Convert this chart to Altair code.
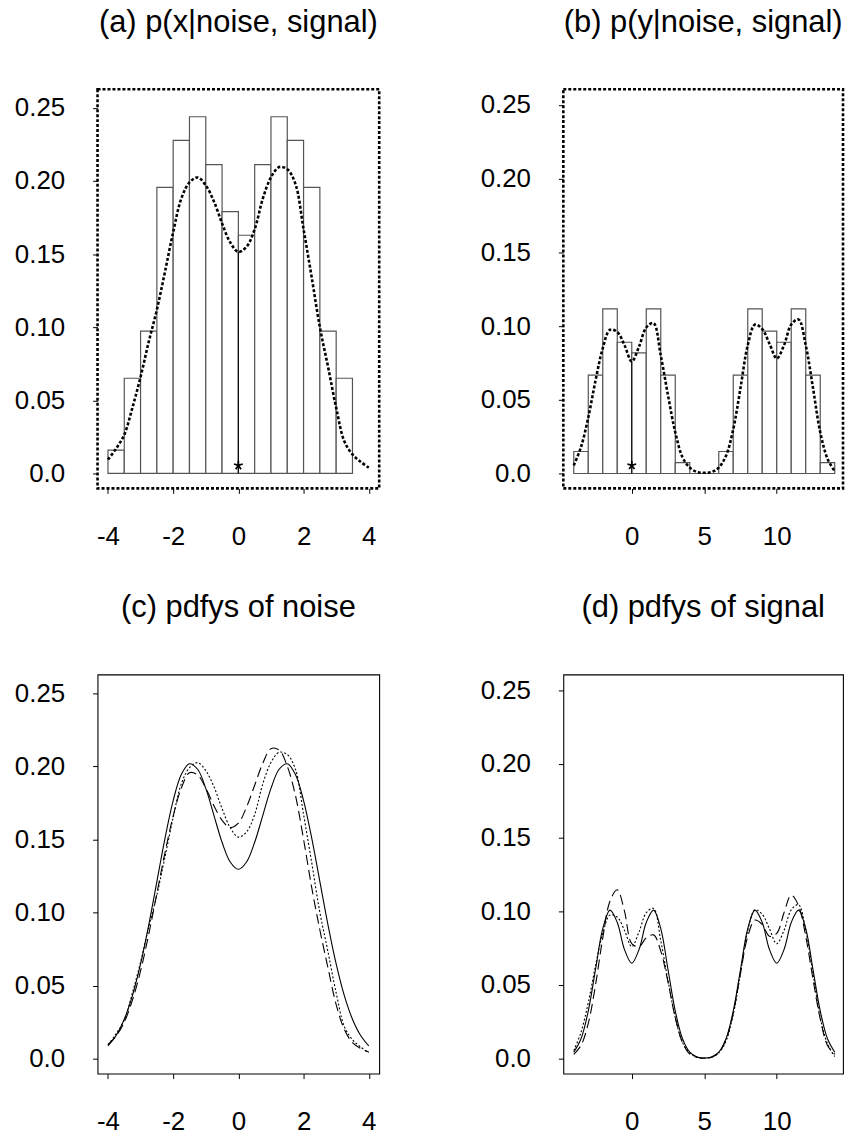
import altair as alt
import pandas as pd

FONT = "Liberation Sans"

# ---------------- data ----------------
# panel (a): histogram of x (bin edges and heights)
a_edges = [-4.0, -3.5, -3.0, -2.5, -2.0, -1.5, -1.0, -0.5, 0.0, 0.5, 1.0, 1.5, 2.0, 2.5, 3.0, 3.5]
a_hist = [0.0159, 0.0651, 0.0973, 0.1956, 0.2278, 0.2439, 0.2112, 0.1790,
          0.1629, 0.2112, 0.2439, 0.2278, 0.1956, 0.0973, 0.0651]

# panel (b): histogram of y
b_edges = [-4, -3, -2, -1, 0, 1, 2, 3, 4, 5, 6, 7, 8, 9, 10, 11, 12, 13, 14]
b_hist = [0.0149, 0.0667, 0.1117, 0.0890, 0.0818, 0.1117, 0.0667, 0.0074, 0.0,
          0.0, 0.0149, 0.0667, 0.1117, 0.0966, 0.0890, 0.1117, 0.0667, 0.0074]

# x grid for the noise curves (panels a, c)
cx = [-4.0, -3.75, -3.5, -3.25, -3.0, -2.75, -2.5, -2.25, -2.0, -1.75, -1.5, -1.25,
      -1.0, -0.75, -0.5, -0.25, 0.0, 0.25, 0.5, 0.75, 1.0, 1.25, 1.5, 1.75,
      2.0, 2.25, 2.5, 2.75, 3.0, 3.25, 3.5, 3.75, 4.0]
# dotted: estimate from the sample (panel a and c)
noise_dotted = [0.0095, 0.0170, 0.0265, 0.0450, 0.0660, 0.0900, 0.1120, 0.1380,
                0.1650, 0.1880, 0.1990, 0.2024, 0.1970, 0.1860, 0.1710, 0.1580,
                0.1515, 0.1550, 0.1670, 0.1880, 0.2025, 0.2095, 0.2080, 0.1980,
                0.1670, 0.1340, 0.1000, 0.0730, 0.0450, 0.0220, 0.0130, 0.0080, 0.0040]
# solid: true noise pdf (panel c)
noise_solid = [0.0088, 0.0159, 0.0270, 0.0431, 0.0648, 0.0914, 0.1211, 0.1508,
               0.1765, 0.1944, 0.2017, 0.1979, 0.1848, 0.1664, 0.1480, 0.1345,
               0.1295, 0.1345, 0.1480, 0.1664, 0.1848, 0.1979, 0.2017, 0.1944,
               0.1765, 0.1508, 0.1211, 0.0914, 0.0648, 0.0431, 0.0270, 0.0159, 0.0088]
# dashed: second estimate (panel c)
noise_dashed = [0.0097, 0.0155, 0.0250, 0.0400, 0.0600, 0.0850, 0.1130, 0.1410,
                0.1660, 0.1850, 0.1955, 0.1940, 0.1850, 0.1730, 0.1630, 0.1580,
                0.1610, 0.1720, 0.1870, 0.2020, 0.2120, 0.2110, 0.2000, 0.1800,
                0.1500, 0.1170, 0.0880, 0.0620, 0.0370, 0.0200, 0.0110, 0.0070, 0.0045]

# x grid for the signal curves (panels b, d)
dx = [-4.0, -3.5, -3.0, -2.5, -2.0, -1.5, -1.0, -0.5, 0.0, 0.5, 1.0, 1.5, 2.0, 2.5,
      3.0, 3.5, 4.0, 4.5, 5.0, 5.5, 6.0, 6.5, 7.0, 7.5, 8.0, 8.5, 9.0, 9.5, 10.0,
      10.5, 11.0, 11.5, 12.0, 12.5, 13.0, 13.5, 14.0]
signal_dotted = [0.0055, 0.0180, 0.0380, 0.0630, 0.0850, 0.0975, 0.0960, 0.0870,
                 0.0760, 0.0860, 0.0990, 0.1020, 0.0800, 0.0530, 0.0280, 0.0110,
                 0.0040, 0.0010, 0.0005, 0.0010, 0.0040, 0.0120, 0.0300, 0.0580,
                 0.0870, 0.1010, 0.0980, 0.0880, 0.0780, 0.0870, 0.1010, 0.1045,
                 0.0870, 0.0580, 0.0280, 0.0100, 0.0015]
signal_solid = [0.0044, 0.0135, 0.0324, 0.0605, 0.0882, 0.1008, 0.0924, 0.0740,
                0.0648, 0.0740, 0.0924, 0.1008, 0.0882, 0.0605, 0.0324, 0.0135,
                0.0044, 0.0011, 0.0004, 0.0011, 0.0044, 0.0135, 0.0324, 0.0605,
                0.0882, 0.1008, 0.0924, 0.0740, 0.0648, 0.0740, 0.0924, 0.1008,
                0.0882, 0.0605, 0.0324, 0.0135, 0.0044]
signal_dashed = [0.0030, 0.0090, 0.0240, 0.0500, 0.0820, 0.1070, 0.1146, 0.1000,
                 0.0780, 0.0760, 0.0820, 0.0840, 0.0730, 0.0520, 0.0280, 0.0110,
                 0.0030, 0.0010, 0.0003, 0.0010, 0.0040, 0.0130, 0.0310, 0.0580,
                 0.0830, 0.0940, 0.0910, 0.0830, 0.0850, 0.0990, 0.1110, 0.1040,
                 0.0830, 0.0540, 0.0270, 0.0090, 0.0030]

star_x = [0.0]
star_y = [0.0055]

titles = ["(a) p(x|noise, signal)", "(b) p(y|noise, signal)",
          "(c) pdfys of noise", "(d) pdfys of signal"]
y_ticks = [0.0, 0.05, 0.10, 0.15, 0.20, 0.25]
x_ticks_noise = [-4, -2, 0, 2, 4]
x_ticks_signal = [0, 5, 10]

# ---------------- styling ----------------
W_L, W_R, H = 283, 281, 401
XDOM_N = [-4.32, 4.32]
XDOM_S = [-4.72, 14.57]
YDOM_AC = [-0.0102, 0.2627]
YDOM_BD = [-0.0101, 0.2606]
INTERP = "catmull-rom"

ASTERISK = ("M0,0L0,-1M0,0L0.951,-0.309M0,0L0.588,0.809"
            "M0,0L-0.588,0.809M0,0L-0.951,-0.309")


def xenc(field, dom, ticks):
    ax = alt.Axis(values=ticks, labelExpr="'' + datum.value", title=None,
                  domain=False, grid=False, tickSize=5, tickColor="black", tickWidth=1,
                  labelFont=FONT, labelFontSize=26, labelColor="black",
                  labelPadding=30, labelFlush=False, labelOverlap=False)
    return alt.X(field, type="quantitative",
                 scale=alt.Scale(domain=dom, nice=False, zero=False), axis=ax)


def yenc(field, dom):
    ax = alt.Axis(values=y_ticks,
                  labelExpr="datum.value == 0 ? '0.0' : format(datum.value, '.2f')",
                  title=None, domain=False, grid=False, tickSize=5, tickColor="black", tickWidth=1,
                  labelFont=FONT, labelFontSize=26, labelColor="black",
                  labelPadding=28, labelFlush=False, labelOverlap=False)
    return alt.Y(field, type="quantitative",
                 scale=alt.Scale(domain=dom, nice=False, zero=False), axis=ax)


def title(t):
    return alt.TitleParams(text=t, fontSize=31, font=FONT, fontWeight="normal",
                           color="black", anchor="middle", baseline="alphabetic", offset=27)


def hist_panel(edges, heights, cxs, dens, xdom, ydom, xticks, width, ttl):
    hist_df = pd.DataFrame({"x0": edges[:-1], "x1": edges[1:], "h": heights,
                            "base": [0.0] * len(heights)})
    dens_df = pd.DataFrame({"x": cxs, "y": dens})
    i0 = cxs.index(0.0)
    rule_df = pd.DataFrame({"x": [0.0], "y0": [0.0], "y1": [dens[i0]]})
    star_df = pd.DataFrame({"x": star_x, "y": star_y})

    bars = alt.Chart(hist_df).mark_rect(fill="white", stroke="#555555", strokeWidth=1.2).encode(
        x=xenc("x0", xdom, xticks), x2="x1", y=yenc("h", ydom), y2="base")
    line = alt.Chart(dens_df).mark_line(color="black", strokeWidth=2.6, strokeDash=[3, 2],
                                        interpolate=INTERP).encode(
        x=xenc("x", xdom, xticks), y=yenc("y", ydom))
    rule = alt.Chart(rule_df).mark_rule(color="black", strokeWidth=1).encode(
        x=xenc("x", xdom, xticks), y=yenc("y0", ydom), y2="y1")
    star = alt.Chart(star_df).mark_point(shape=ASTERISK, size=85, filled=False,
                                         color="black", strokeWidth=1.7, opacity=1).encode(
        x=xenc("x", xdom, xticks), y=yenc("y", ydom))
    return alt.layer(bars, rule, line, star).properties(
        width=width, height=H, title=title(ttl),
        view=alt.ViewBackground(stroke="black", strokeWidth=2.6, strokeDash=[3, 2], fill="white"))


def curve_panel(xs, solid, dashed, dotted, xdom, ydom, xticks, width, ttl):
    df_s = pd.DataFrame({"x": xs, "y": solid})
    df_d = pd.DataFrame({"x": xs, "y": dashed})
    df_o = pd.DataFrame({"x": xs, "y": dotted})
    l_s = alt.Chart(df_s).mark_line(color="black", strokeWidth=1.1, interpolate=INTERP).encode(
        x=xenc("x", xdom, xticks), y=yenc("y", ydom))
    l_d = alt.Chart(df_d).mark_line(color="black", strokeWidth=1.1, strokeDash=[10, 5],
                                    interpolate=INTERP).encode(
        x=xenc("x", xdom, xticks), y=yenc("y", ydom))
    l_o = alt.Chart(df_o).mark_line(color="black", strokeWidth=1.1, strokeDash=[2, 2],
                                    interpolate=INTERP).encode(
        x=xenc("x", xdom, xticks), y=yenc("y", ydom))
    return alt.layer(l_s, l_d, l_o).properties(
        width=width, height=H, title=title(ttl),
        view=alt.ViewBackground(stroke="black", strokeWidth=1.1, fill="white"))


pa = hist_panel(a_edges, a_hist, cx, noise_dotted, XDOM_N, YDOM_AC, x_ticks_noise, W_L, titles[0])
pb = hist_panel(b_edges, b_hist, dx, signal_dotted, XDOM_S, YDOM_BD, x_ticks_signal, W_R, titles[1])
pc = curve_panel(cx, noise_solid, noise_dashed, noise_dotted, XDOM_N, YDOM_AC, x_ticks_noise, W_L, titles[2])
pd_ = curve_panel(dx, signal_solid, signal_dashed, signal_dotted, XDOM_S, YDOM_BD, x_ticks_signal, W_R, titles[3])

chart = alt.concat(pa, pb, pc, pd_, columns=2, spacing={"row": 187, "column": 185},
                   bounds="flush").properties(
    padding={"left": 13, "top": 2, "right": 0, "bottom": 0},
    background="white",
).configure_view(strokeWidth=0)

chart.save("out.html", embed_options={"renderer": "svg", "actions": False})
